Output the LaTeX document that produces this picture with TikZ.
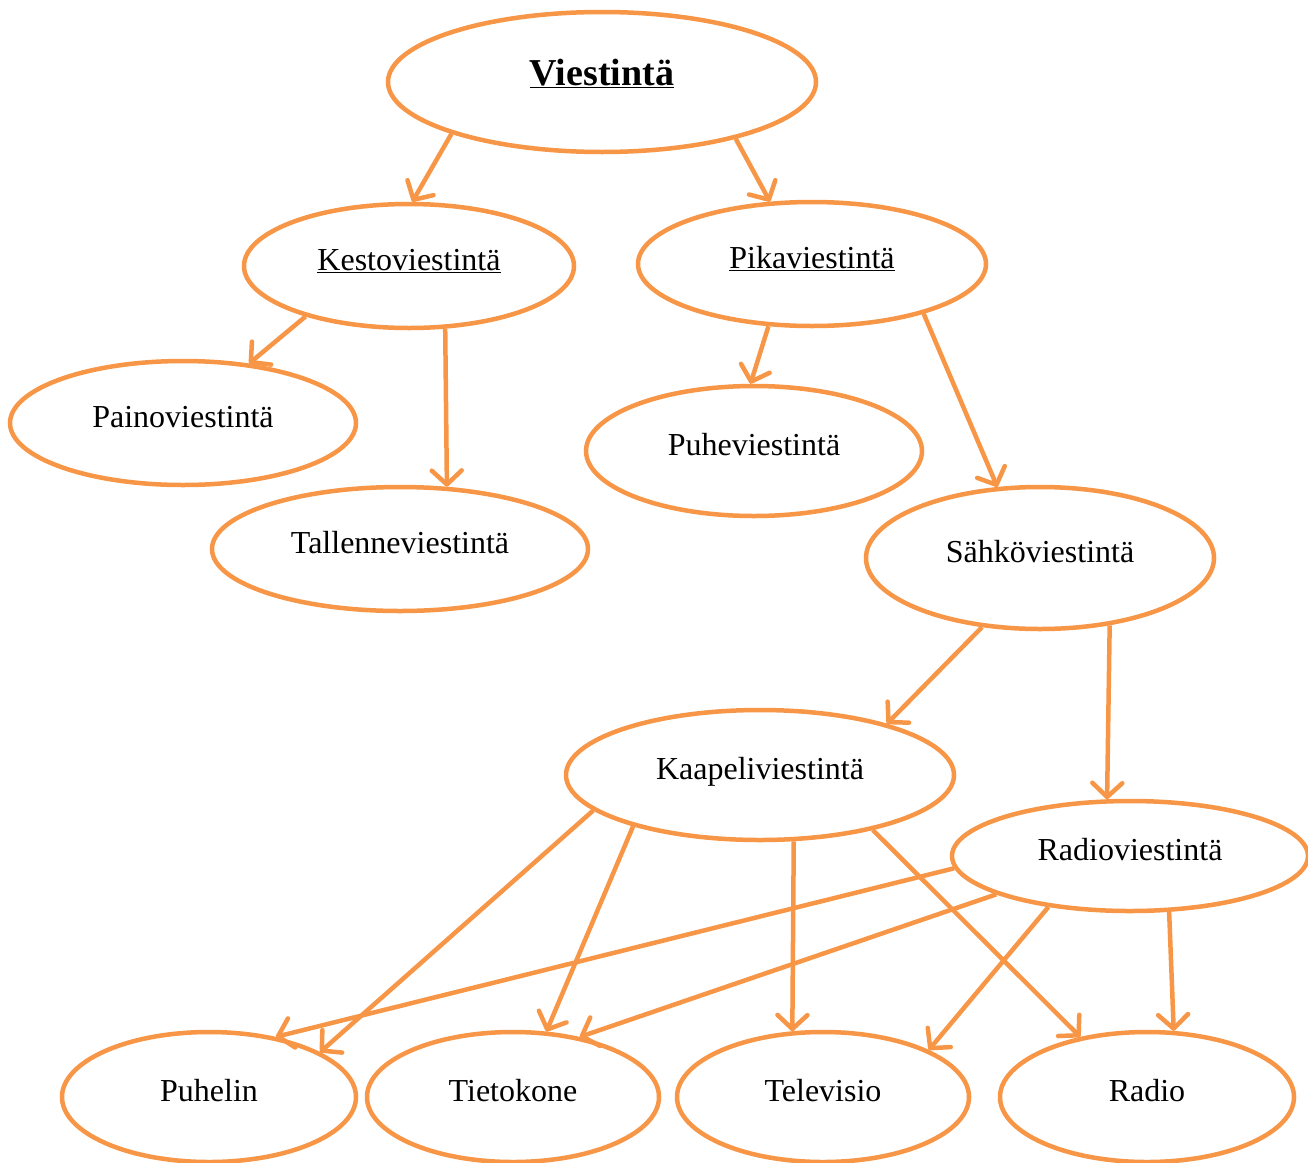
\documentclass[tikz,border=0pt]{standalone}
\usepackage{fontspec}
\setmainfont{Liberation Serif}
\usetikzlibrary{shapes.geometric,arrows.meta}
\definecolor{oran}{RGB}{247,150,70}
\begin{document}
\begin{tikzpicture}[x=1pt,y=-1pt,
  ell/.style={draw=oran, line width=4.5pt, ellipse, inner sep=0pt, fill=white,
    font=\fontsize{32}{36}\selectfont, text height=20pt, text depth=11pt},
  conn/.style={draw=oran, line width=4.5pt,
    -{Straight Barb[length=14pt,width=30pt,round]}}]
\useasboundingbox (0,0) rectangle (1308,1162);
\clip (0,0) rectangle (1308,1162);
% nodes
\node[ell, minimum width=428pt, minimum height=140pt, font=\fontsize{38}{42}\selectfont\bfseries, text depth=13.6pt] (vi) at (602,82) {\underline{Viestintä}};
\node[ell, minimum width=330pt, minimum height=124pt] (ke) at (409,266) {\underline{Kestoviestintä}};
\node[ell, minimum width=348pt, minimum height=124pt] (pi) at (812,264) {\underline{Pikaviestintä}};
\node[ell, minimum width=346pt, minimum height=124pt] (pa) at (183,423) {Painoviestintä};
\node[ell, minimum width=376pt, minimum height=124pt] (ta) at (400,549) {Tallenneviestintä};
\node[ell, minimum width=336pt, minimum height=130pt] (pu) at (754,451) {Puheviestintä};
\node[ell, minimum width=348pt, minimum height=142pt] (sa) at (1040,558) {Sähköviestintä};
\node[ell, minimum width=388pt, minimum height=130pt] (ka) at (760,775) {Kaapeliviestintä};
\node[ell, minimum width=356pt, minimum height=110pt] (rv) at (1130,856) {Radioviestintä};
\node[ell, minimum width=294pt, minimum height=130pt] (ph) at (209,1097) {Puhelin};
\node[ell, minimum width=292pt, minimum height=130pt] (tk) at (513,1097) {Tietokone};
\node[ell, minimum width=292pt, minimum height=130pt] (tv) at (823,1097) {Televisio};
\node[ell, minimum width=294pt, minimum height=130pt] (ra) at (1147,1097) {Radio};
% connectors
\draw[conn] (vi.199.8) -- (ke.87.2);
\draw[conn] (vi.337.8) -- (pi.124.9);
\draw[conn] (ke.206.6) -- (pa.42);
\draw[conn] (ke.300.8) -- (ta.53.2);
\draw[conn] (pi.235.8) -- (pu.93.5);
\draw[conn] (pi.336.1) -- (sa.121.4);
\draw[conn] (sa.230.8) -- (ka.22.5);
\draw[conn] (sa.316) -- (rv.112);
\draw[conn] (ka.192.5) -- (ph.22.6);
\draw[conn] (ka.202.5) -- (tk.63.2);
\draw[conn] (ka.297.3) -- (tv.115.3);
\draw[conn] (ka.334) -- (ra.138.1);
\draw[conn] (rv.184.5) -- (ph.42.4);
\draw[conn] (rv.196.1) -- (tk.42.4);
\draw[conn] (rv.212.3) -- (tv.24.5);
\draw[conn] (rv.305.3) -- (ra.68.7);
\end{tikzpicture}
\end{document}
